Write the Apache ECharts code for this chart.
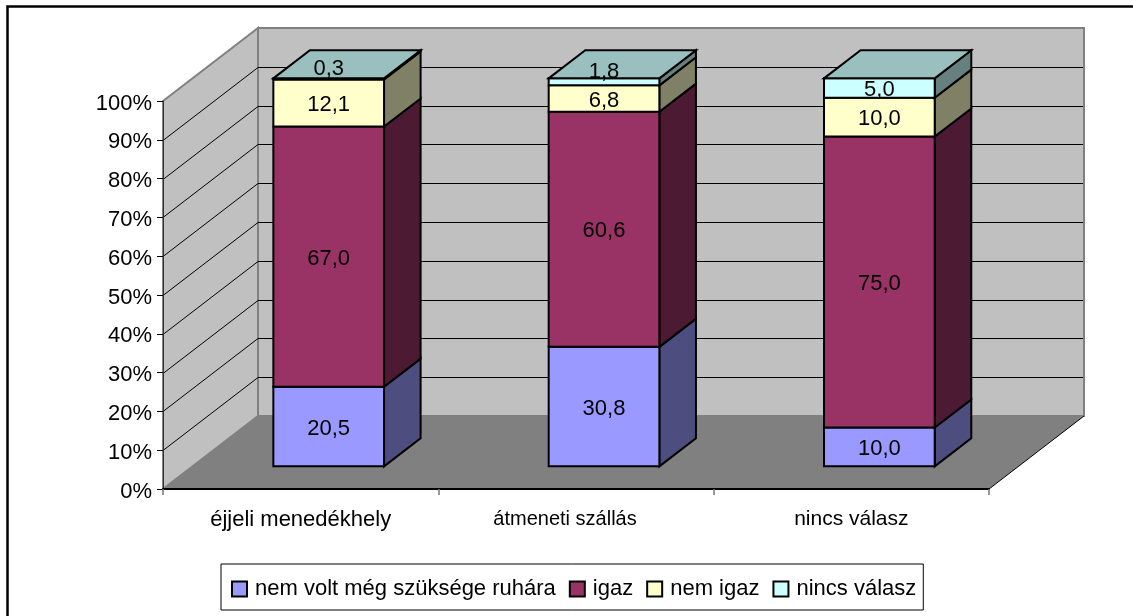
<!DOCTYPE html>
<html lang="hu">
<head>
    <meta charset="UTF-8">
    <title>Ruha</title>
    <script type="text/javascript" src="https://cdn.jsdelivr.net/npm/echarts@6/dist/echarts.min.js"></script>
    <style>
        html, body { margin: 0; padding: 0; background: #fff; }
    </style>
</head>
<body>
<div id="chart" style="width:1133px;height:616px;"></div>

<script type="text/javascript">
    var categories = ['éjjeli menedékhely', 'átmeneti szállás', 'nincs válasz'];
    var seriesNames = ['nem volt még szüksége ruhára', 'igaz', 'nem igaz', 'nincs válasz'];
    var noNeed = [20.5, 30.8, 10.0];
    var yes = [67.0, 60.6, 75.0];
    var no = [12.1, 6.8, 10.0];
    var noAnswer = [0.3, 1.8, 5.0];
    var yTicks = [0, 10, 20, 30, 40, 50, 60, 70, 80, 90, 100];

    var frontColors = ['#9999ff', '#993366', '#ffffcc', '#ccffff'];
    var sideColors = ['#4d4d80', '#4d1a33', '#808066', '#668080'];
    var topColor = '#99bfbf';

    // 3d look: how far the floor runs back, and where the bars sit on it
    var DEPTH_X = 95, DEPTH_Y = -73;
    var BAR_FRONT_X = 0.295, BAR_FRONT_Y = 0.31, BAR_DEPTH = 0.385;
    var BAR_WIDTH = 0.402;

    var allValues = [noNeed, yes, no, noAnswer];

    function poly(points, fill, stroke, lineWidth) {
        return {
            type: 'polygon',
            shape: { points: points },
            style: { fill: fill, stroke: stroke, lineWidth: lineWidth, lineJoin: 'miter' }
        };
    }

    function line(x1, y1, x2, y2, color, lineWidth) {
        return {
            type: 'line',
            shape: { x1: x1, y1: y1, x2: x2, y2: y2 },
            style: { stroke: color, lineWidth: lineWidth }
        };
    }

    function renderWalls(params, api) {
        var c = params.coordSys;
        var left = c.x, right = c.x + c.width, bottom = c.y + c.height, top = c.y;
        var kids = [];
        kids.push(poly([[left + DEPTH_X, top + DEPTH_Y], [right + DEPTH_X, top + DEPTH_Y],
            [right + DEPTH_X, bottom + DEPTH_Y], [left + DEPTH_X, bottom + DEPTH_Y]], '#c0c0c0', '#808080', 2));
        kids.push(poly([[left, top], [left + DEPTH_X, top + DEPTH_Y],
            [left + DEPTH_X, bottom + DEPTH_Y], [left, bottom]], '#c0c0c0', '#808080', 2));
        kids.push(poly([[left, bottom], [right, bottom],
            [right + DEPTH_X, bottom + DEPTH_Y], [left + DEPTH_X, bottom + DEPTH_Y]], '#808080', '#808080', 0));
        kids.push(line(right, bottom, right + DEPTH_X, bottom + DEPTH_Y, '#000', 1));
        yTicks.forEach(function (t) {
            if (t === 0 || t === 100) return;
            var y = Math.round(api.coord([0, t])[1]) + 0.5;
            kids.push(line(left, y, left + DEPTH_X, y + DEPTH_Y, '#000', 1));
            kids.push(line(left + DEPTH_X, y + DEPTH_Y, right + DEPTH_X - 1, y + DEPTH_Y, '#000', 1));
        });
        return { type: 'group', children: kids };
    }

    function makeRender(idx) {
        return function (params, api) {
            var c = params.coordSys;
            var bandW = c.width / categories.length;
            var cat = api.value(0);
            var from = api.coord([cat, api.value(1)]);
            var to = api.coord([cat, api.value(2)]);
            var halfW = bandW * BAR_WIDTH / 2;
            var fx = from[0] + DEPTH_X * BAR_FRONT_X;
            var fyOff = DEPTH_Y * BAR_FRONT_Y;
            var dx = DEPTH_X * BAR_DEPTH;
            var dy = DEPTH_Y * BAR_DEPTH;
            var xl = fx - halfW, xr = fx + halfW;
            var yb = from[1] + fyOff, yt = to[1] + fyOff;
            var kids = [];
            kids.push(poly([[xr, yb], [xr + dx, yb + dy], [xr + dx, yt + dy], [xr, yt]], sideColors[idx], '#000', 2));
            kids.push(poly([[xl, yb], [xr, yb], [xr, yt], [xl, yt]], frontColors[idx], '#000', 2));
            if (idx === allValues.length - 1) {
                kids.push(poly([[xl, yt], [xr, yt], [xr + dx, yt + dy], [xl + dx, yt + dy]], topColor, '#000', 2));
            }
            var raw = api.value(3);
            // very thin pieces get their label lifted above the front face
            var labelY = (yb + yt) / 2 + 2 - (raw < 3 ? 12 : 0);
            kids.push({
                type: 'text',
                z2: 10,
                style: {
                    x: fx, y: labelY,
                    text: raw.toFixed(1).replace('.', ','),
                    fill: '#000',
                    font: '22px "Liberation Sans"',
                    align: 'center',
                    verticalAlign: 'middle'
                }
            });
            return { type: 'group', children: kids };
        };
    }

    function stackData(idx) {
        return categories.map(function (name, i) {
            var total = 0, before = 0;
            allValues.forEach(function (vals, k) {
                total += vals[i];
                if (k < idx) before += vals[i];
            });
            var scale = 100 / total;
            return [i, before * scale, (before + allValues[idx][i]) * scale, allValues[idx][i]];
        });
    }

    var series = [{
        type: 'custom',
        name: 'walls',
        silent: true,
        z: 1,
        renderItem: renderWalls,
        data: [[0, 0]],
        encode: { x: 0, y: 1 }
    }];
    seriesNames.forEach(function (name, idx) {
        series.push({
            type: 'custom',
            name: name,
            z: 2,
            renderItem: makeRender(idx),
            itemStyle: { color: frontColors[idx], borderColor: '#000', borderWidth: 2 },
            data: stackData(idx),
            encode: { x: 0, y: [1, 2] }
        });
    });

    var myChart = echarts.init(document.getElementById('chart'));
    var option = {
        animation: false,
        backgroundColor: '#fff',
        textStyle: { fontFamily: '"Liberation Sans"' },
        graphic: [{
            type: 'polyline',
            silent: true,
            shape: { points: [[7.5, 620], [7.5, 6.5], [1140, 6.5]] },
            style: { stroke: '#000', lineWidth: 2.5, fill: null }
        }],
        grid: { left: 163, top: 101, width: 826, height: 388, containLabel: false },
        legend: {
            left: 221,
            top: 564,
            data: seriesNames,
            icon: 'rect',
            itemWidth: 15,
            itemHeight: 15,
            itemGap: 13,
            padding: [14, 7, 10, 10],
            backgroundColor: '#fff',
            borderColor: '#000',
            borderWidth: 1,
            selectedMode: false,
            textStyle: { color: '#000', fontSize: 22, fontFamily: '"Liberation Sans"', padding: [0, 0, 0, 3] }
        },
        xAxis: {
            type: 'category',
            data: categories,
            z: 10,
            boundaryGap: true,
            axisLine: { lineStyle: { color: '#000', width: 2 } },
            axisTick: { show: true, alignWithLabel: false, interval: 0, length: 6, lineStyle: { color: '#777', width: 1.5 } },
            axisLabel: {
                color: '#000',
                fontSize: 22,
                margin: 20,
                interval: 0,
                hideOverlap: false,
                formatter: function (v, i) {
                    if (i === 1) return '{mid|' + v + '}';
                    if (i === 2) return '{last|' + v + '}';
                    return v;
                },
                rich: {
                    mid: { fontSize: 20, color: '#000', padding: [0, 22, 0, 0] },
                    last: { fontSize: 21, color: '#000' }
                }
            }
        },
        yAxis: {
            type: 'value',
            min: 0,
            max: 100,
            interval: 10,
            z: 10,
            splitLine: { show: false },
            axisLine: { show: true, lineStyle: { color: '#333', width: 1 } },
            axisTick: { show: true, length: 6, lineStyle: { color: '#000', width: 1 } },
            axisLabel: {
                color: '#000',
                fontSize: 22,
                margin: 11,
                formatter: function (v) { return '{p|' + v + '%}'; },
                rich: { p: { fontSize: 22, color: '#000', padding: [5, 0, 0, 0] } }
            }
        },
        series: series
    };
    myChart.setOption(option, true);
</script>
</body>
</html>
